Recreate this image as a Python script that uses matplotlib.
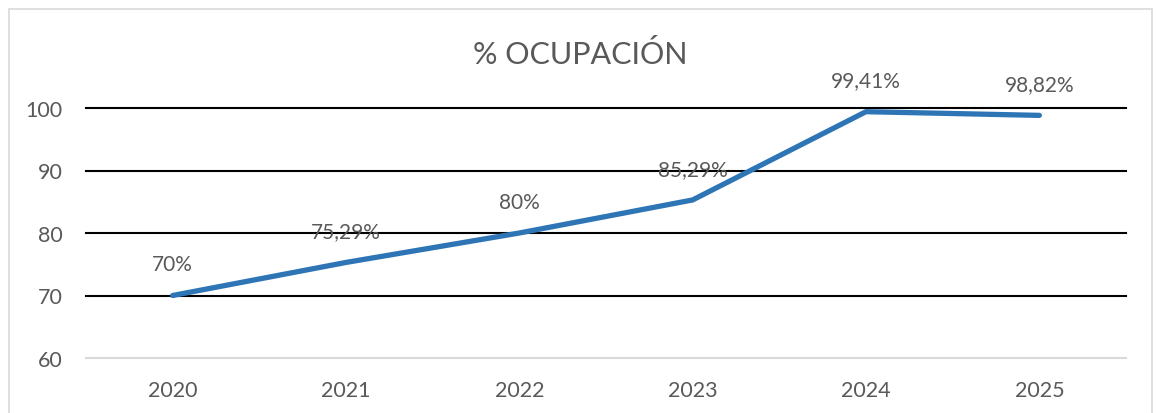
import matplotlib.pyplot as plt
from matplotlib.patches import Rectangle

years = ['2020', '2021', '2022', '2023', '2024', '2025']
ocupacion = [70, 75.29, 80, 85.29, 99.41, 98.82]
labels = ['70%', '75,29%', '80%', '85,29%', '99,41%', '98,82%']
yticks = [60, 70, 80, 90, 100]

W, H = 1156, 414
fig = plt.figure(figsize=(W / 100, H / 100), dpi=100)
plt.rcParams['font.family'] = ['Lato', 'DejaVu Sans']
txt = '#595959'

# outer chart border
fig.patches.append(Rectangle((9 / W, -0.05), (1152 - 9) / W, (H - 10) / H + 0.05,
                             transform=fig.transFigure, fill=False,
                             edgecolor='#d9d9d9', lw=1.2))

ax = fig.add_axes([86 / W, (H - 359) / H, (1126 - 86) / W, (359 - 109) / H])
x = range(len(years))
ax.plot(x, ocupacion, color='#2E75B6', lw=3.8, solid_capstyle='round',
        solid_joinstyle='round', clip_on=False, zorder=3)
for i, (v, lab) in enumerate(zip(ocupacion, labels)):
    ax.annotate(lab, (i, v), xytext=(0, 22.5), textcoords='offset points',
                ha='center', va='center', fontsize=15, color=txt, zorder=4)

ax.set_xlim(-0.5, len(years) - 0.5)
ax.set_ylim(60, 100)
ax.set_xticks(list(x))
ax.set_xticklabels(years)
ax.set_yticks(yticks)
for y in yticks[1:]:
    ax.axhline(y, color='black', lw=1.5, zorder=1, clip_on=False)

for s in ['top', 'left', 'right']:
    ax.spines[s].set_visible(False)
ax.spines['bottom'].set_color('#d9d9d9')
ax.spines['bottom'].set_linewidth(1.5)
ax.tick_params(length=0, labelsize=15.5, colors=txt)
ax.tick_params(axis='y', pad=17)
ax.tick_params(axis='x', pad=16)

fig.text(580 / W, (H - 55) / H, '% OCUPACIÓN', ha='center', va='center',
         fontsize=22, color=txt)

fig.savefig('out.png', dpi=100)
